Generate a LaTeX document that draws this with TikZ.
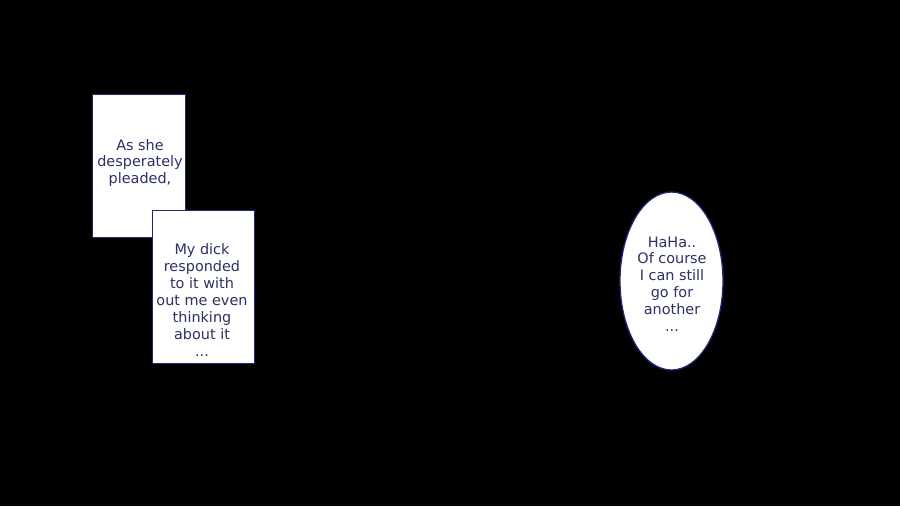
\documentclass[tikz,border=0pt]{standalone}
\usepackage{fontspec}
\usepackage{xcolor}
\usetikzlibrary{shapes.geometric}
\newfontfamily\dlgfont{DejaVu Sans}
\definecolor{inkblue}{HTML}{2B3163}
\definecolor{edgeblue}{HTML}{1E2878}

\begin{document}
\begin{tikzpicture}[
        x=0.03cm, y=-0.03cm,
        panel/.style={draw=edgeblue, fill=white, line width=0.8pt, inner sep=0pt, anchor=north west},
        words/.style={text=inkblue, align=center, font=\dlgfont\fontsize{12.3}{14.4}\selectfont}]
        % BACKGROUND
        \fill[black] (0,0) rectangle (900,506);
        % NODES
        % first caption box
        \node[panel, minimum width=2.79cm, minimum height=4.29cm] (boxA) at (92,94) {};
        \node[words] (textA) at (140,163) {As she\\desperately\\pleaded,};
        % second caption box
        \node[panel, minimum width=3.06cm, minimum height=4.59cm] (boxB) at (152,210) {};
        \node[words] (textB) at (202,300) {My dick\\responded\\to it with\\out me even\\thinking\\about it\\...};
        % speech bubble
        \node[draw=edgeblue, fill=white, line width=1.1pt, ellipse, inner sep=0pt,
              minimum width=3.09cm, minimum height=5.34cm] (bubble) at (671.5,281) {};
        \node[words] (textC) at (672,284) {HaHa..\\Of course\\I can still\\go for\\another\\...};
    \end{tikzpicture}
\end{document}
